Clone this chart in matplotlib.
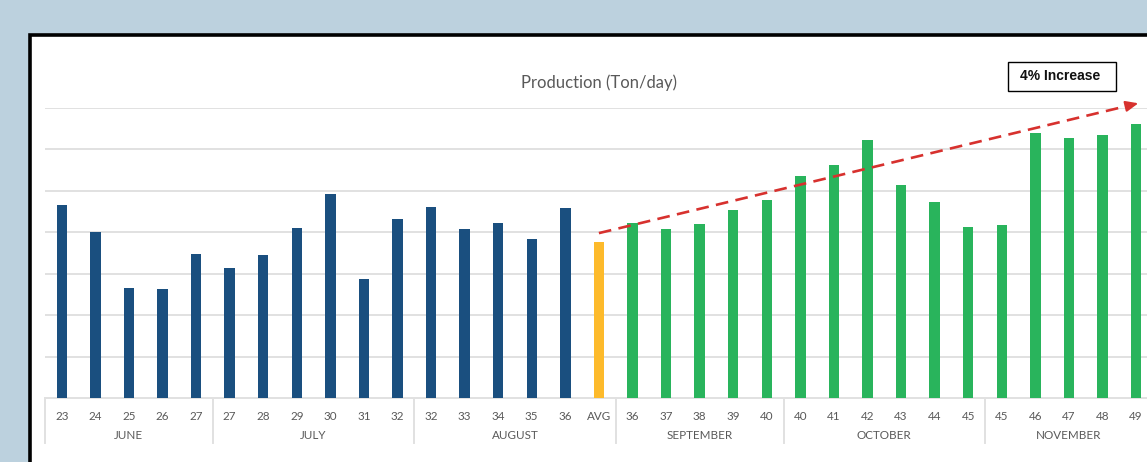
import matplotlib.pyplot as plt
from matplotlib.patches import Rectangle
from matplotlib.transforms import blended_transform_factory

# category labels (one per bar) and month groups
days = ["23", "24", "25", "26", "27",
        "27", "28", "29", "30", "31", "32",
        "32", "33", "34", "35", "36", "AVG",
        "36", "37", "38", "39", "40",
        "40", "41", "42", "43", "44", "45",
        "45", "46", "47", "48", "49"]
months = ["JUNE", "JULY", "AUGUST", "SEPTEMBER", "OCTOBER", "NOVEMBER"]
month_sizes = [5, 6, 6, 5, 6, 5]

# production values (no axis labels in the original)
production = [46.6, 40.0, 26.6, 26.2, 34.8,
              31.3, 34.5, 41.1, 49.2, 28.8, 43.1,
              46.2, 40.7, 42.3, 38.5, 45.9, 37.7,
              42.3, 40.7, 41.9, 45.4, 47.8,
              53.7, 56.3, 62.2, 51.4, 47.3, 41.3,
              41.7, 64.0, 62.7, 63.6, 66.1]

# trend arrow: from the AVG bar towards the right edge
trend_x = [16.0, 32.15]
trend_y = [39.8, 71.3]
trend_label = "4% Increase"

BLUE = "#1a4f7f"
GOLD = "#fdba2b"
GREEN = "#29b45c"
GRAY_TXT = "#595959"
GRID = "#e1e1e1"
BG = "#bcd1de"

W, H = 1147, 462


def fx(px):
    return px / W


def fy(py):
    return 1 - py / H


avg_idx = days.index("AVG")
colors = [BLUE if i < avg_idx else GOLD if i == avg_idx else GREEN
          for i in range(len(days))]

fig = plt.figure(figsize=(W / 100, H / 100), dpi=100, facecolor=BG)

# white chart panel with the thick black frame
panel = Rectangle((fx(29.5), fy(500)), fx(1200), (500 - 35) / H,
                  transform=fig.transFigure, facecolor="white",
                  edgecolor="black", linewidth=2.6, zorder=-10)
fig.patches.append(panel)

n = len(days)
left_px, step_px = 45, 33.57
ax = fig.add_axes([fx(left_px), fy(398), fx(n * step_px), (398 - 108) / H])
ax.set_facecolor("none")

ax.bar(range(n), production, width=0.31, color=colors, zorder=3)

ax.set_xlim(-0.5, n - 0.5)
ax.set_ylim(0, 70)
ax.set_yticks(range(10, 71, 10))
ax.yaxis.grid(True, color=GRID, linewidth=1.4, zorder=0)
ax.tick_params(axis="y", length=0, labelleft=False)
for s in ["top", "right", "left"]:
    ax.spines[s].set_visible(False)
ax.spines["bottom"].set_color(GRID)
ax.spines["bottom"].set_linewidth(1.4)

ax.set_xticks(range(n))
ax.set_xticklabels(days, fontsize=8.4, color=GRAY_TXT, family="Lato")
ax.tick_params(axis="x", length=0, pad=9)

# month group labels and separators
tr = blended_transform_factory(ax.transData, ax.transAxes)
start = 0
bounds = [-0.5]
for name, size in zip(months, month_sizes):
    mid = start + (size - 1) / 2
    ax.text(mid, -0.13, name, transform=tr, ha="center", va="center",
            fontsize=8.4, color=GRAY_TXT, family="Lato")
    start += size
    bounds.append(start - 0.5)
for b in bounds:
    ax.plot([b, b], [0, -0.155], transform=tr, color=GRID, linewidth=1.4,
            clip_on=False)

# dashed trend arrow
tip_back = 0.35
dx = trend_x[1] - trend_x[0]
dy = trend_y[1] - trend_y[0]
frac = 1 - tip_back / dx
ax.plot([trend_x[0], trend_x[0] + dx * frac], [trend_y[0], trend_y[0] + dy * frac],
        color="#d7312e", linewidth=1.9, linestyle=(0, (4.8, 2.8)),
        clip_on=False, zorder=5)
ax.annotate("", xy=(trend_x[1], trend_y[1]),
            xytext=(trend_x[0] + dx * (frac - 0.01), trend_y[0] + dy * (frac - 0.01)),
            arrowprops=dict(arrowstyle="-|>,head_length=0.75,head_width=0.32",
                            color="#d7312e", linewidth=1.5),
            annotation_clip=False, zorder=5)

# title
fig.text(fx(599), fy(83), "Production (Ton/day)", ha="center", va="center",
         fontsize=12, color=GRAY_TXT, family="Lato")

# label box
box = Rectangle((fx(1008), fy(90.5)), fx(107.5), 28.2 / H,
                transform=fig.transFigure, facecolor="white",
                edgecolor="black", linewidth=1.0, zorder=6)
fig.patches.append(box)
fig.text(fx(1060), fy(76.5), trend_label, ha="center", va="center",
         fontsize=10, fontweight="bold", color="#111111",
         family="Liberation Sans", zorder=7)

fig.savefig("out.png", dpi=100, facecolor=BG)
